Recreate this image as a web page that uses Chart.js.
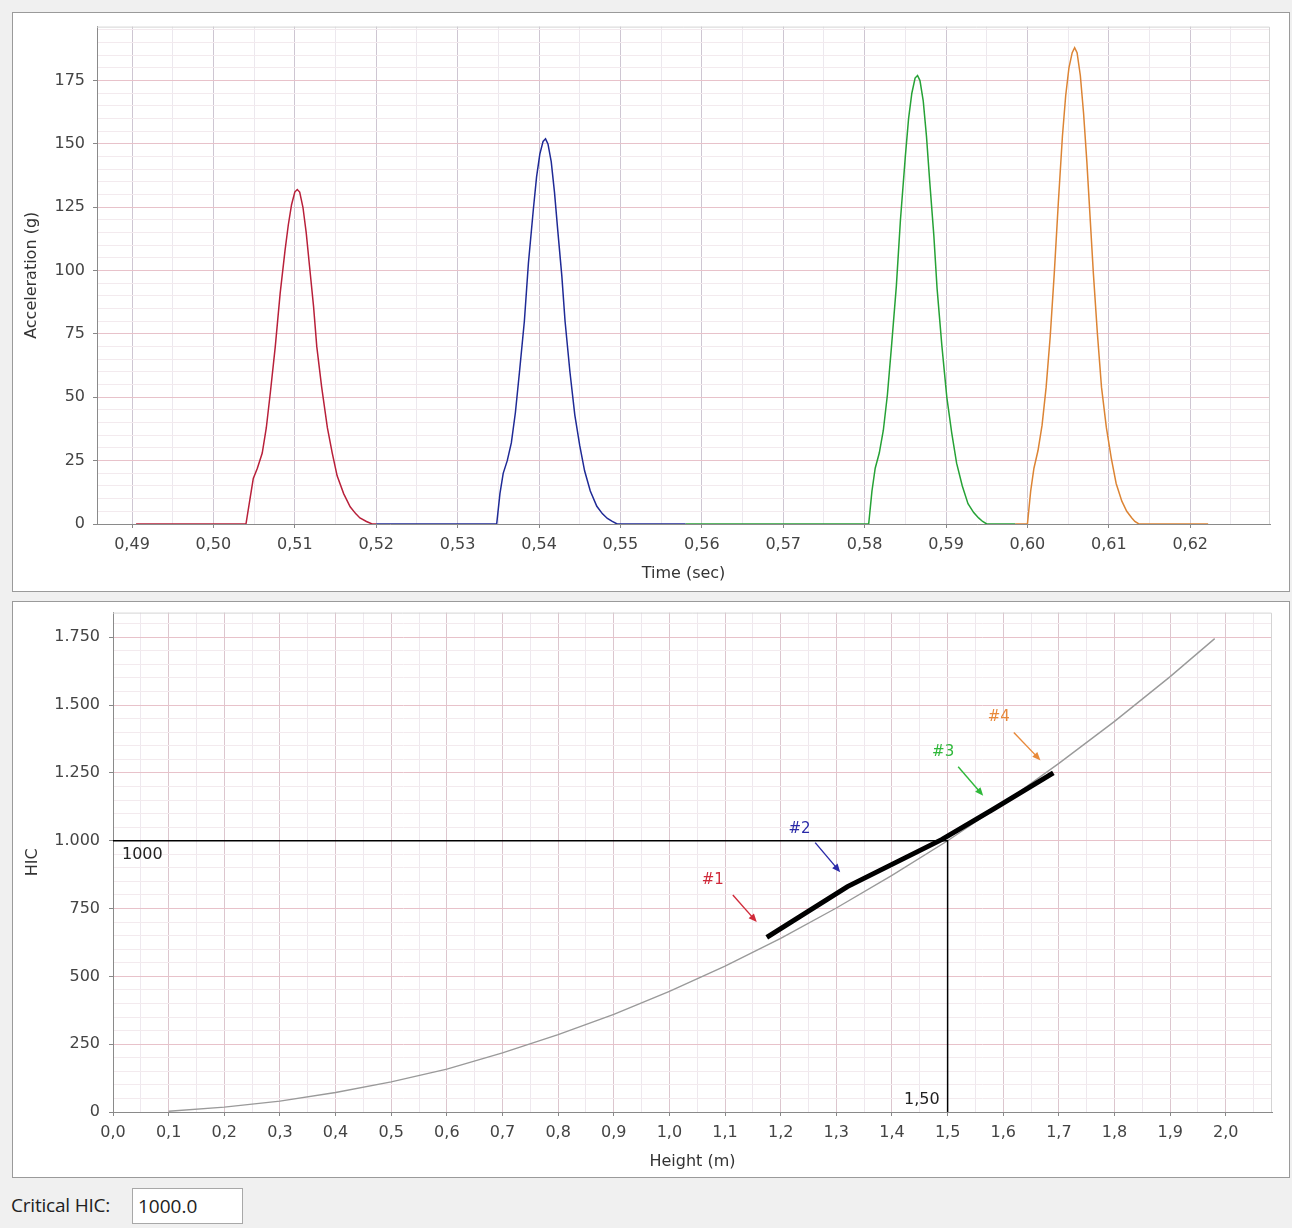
<!DOCTYPE html>
<html>
<head>
<meta charset="utf-8">
<title>HIC</title>
<script src="https://cdn.jsdelivr.net/npm/chart.js@4.4.1/dist/chart.umd.min.js"></script>
<style>
  body { margin: 0; background: #f0f0f0; width: 1292px; height: 1228px; position: relative; overflow: hidden; }
  .panel { position: absolute; left: 12px; width: 1276px; background: #fff; border: 1px solid #9a9a9a; overflow: hidden; }
  #top-panel { top: 12px; height: 578px; }
  #bottom-panel { top: 601px; height: 575px; }
  .wrap { position: absolute; left: 0; width: 1276px; }
  #top-wrap { top: -4px; height: 582px; }
  #bottom-wrap { top: -8px; height: 583px; }
  .wrap canvas { display: block; }
  #crit-label { position: absolute; left: 11px; top: 1192px; font: 19px "Open Sans"; color: #222; letter-spacing: -0.2px; }
  #crit-box { position: absolute; left: 132px; top: 1188px; width: 104px; height: 34px; padding-left: 5px;
    background: #fff; border: 1px solid #a8a8a8; font: 19px "Open Sans"; color: #222; line-height: 34px; }
</style>
</head>
<body>
<div class="panel" id="top-panel"><div class="wrap" id="top-wrap"><canvas id="accel-chart"></canvas></div></div>
<div class="panel" id="bottom-panel"><div class="wrap" id="bottom-wrap"><canvas id="hic-chart"></canvas></div></div>
<div id="crit-label">Critical HIC:</div>
<div id="crit-box">1000.0</div>
<script>
// Drop #1 (red)
const redTime = [0.4905, 0.5040, 0.5045, 0.5049, 0.5054, 0.5060, 0.5065, 0.5070, 0.5076, 0.5082, 0.5088, 0.5092, 0.5096, 0.5100, 0.5103, 0.5106, 0.5110, 0.5114, 0.5118, 0.5123, 0.5127, 0.5133, 0.5140, 0.5146, 0.5152, 0.5160, 0.5168, 0.5175, 0.5180, 0.5188, 0.5195, 0.5200];
const redAccel = [0, 0, 10, 18, 22, 28, 38, 52, 70, 91, 108, 118, 126, 131, 132, 131, 125, 115, 102, 86, 70, 54, 38, 28, 19, 12, 6.8, 4, 2.4, 1, 0, 0];

// Drop #2 (blue)
const blueTime = [0.5200, 0.5348, 0.5352, 0.5356, 0.5361, 0.5366, 0.5371, 0.5376, 0.5382, 0.5387, 0.5393, 0.5397, 0.5401, 0.5405, 0.5408, 0.5411, 0.5415, 0.5419, 0.5423, 0.5428, 0.5432, 0.5438, 0.5444, 0.5450, 0.5456, 0.5463, 0.5471, 0.5478, 0.5484, 0.5490, 0.5496, 0.5580];
const blueAccel = [0, 0, 12, 20, 25, 32, 44, 60, 80, 103, 124, 137, 146, 151, 152, 150, 143, 131, 116, 98, 80, 60, 43, 31, 21, 13, 7, 4, 2.2, 1, 0, 0];

// Drop #3 (green)
const greenTime = [0.5580, 0.5805, 0.5809, 0.5813, 0.5818, 0.5823, 0.5828, 0.5833, 0.5839, 0.5844, 0.5850, 0.5854, 0.5858, 0.5862, 0.5865, 0.5868, 0.5872, 0.5876, 0.5880, 0.5885, 0.5889, 0.5895, 0.5901, 0.5907, 0.5913, 0.5920, 0.5927, 0.5934, 0.5940, 0.5945, 0.5950, 0.5985];
const greenAccel = [0, 0, 13, 22, 28, 37, 51, 70, 94, 120, 145, 160, 170, 176, 177, 175, 167, 153, 135, 114, 93, 70, 50, 36, 24, 15, 8, 4.5, 2.4, 1, 0, 0];

// Drop #4 (orange)
const orangeTime = [0.5985, 0.6000, 0.6004, 0.6008, 0.6013, 0.6018, 0.6023, 0.6028, 0.6033, 0.6038, 0.6043, 0.6047, 0.6051, 0.6055, 0.6058, 0.6061, 0.6065, 0.6069, 0.6073, 0.6077, 0.6081, 0.6086, 0.6091, 0.6097, 0.6103, 0.6109, 0.6116, 0.6122, 0.6128, 0.6132, 0.6137, 0.6222];
const orangeAccel = [0, 0, 13, 22, 29, 39, 54, 74, 99, 127, 153, 169, 180, 186, 188, 186, 177, 162, 143, 121, 99, 75, 54, 38, 26, 16, 9, 5, 2.5, 1, 0, 0];

// HIC vs drop height
const heightValues = [0.1, 0.2, 0.3, 0.4, 0.5, 0.6, 0.7, 0.8, 0.9, 1.0, 1.1, 1.2, 1.3, 1.4, 1.5, 1.6, 1.7, 1.8, 1.9, 1.98];
const hicValues = [3, 18, 40, 72, 111, 158, 218, 285, 360, 445, 538, 640, 752, 872, 1000, 1138, 1285, 1440, 1605, 1745];

// measured drops
const testHeights = [1.175, 1.32, 1.49, 1.58, 1.69];
const testHic = [644, 831, 1005, 1114, 1250];

const criticalHIC = 1000;
const criticalHeight = 1.50;

// arrow notes (data units)
const noteLabels = ['#1', '#2', '#3', '#4'];
const noteColors = ['#d02a3a', '#2a2aa8', '#2fb83a', '#e8893a'];
const noteTextX = [1.078, 1.234, 1.492, 1.592];
const noteTextY = [855, 1042, 1325, 1456];
const noteFromX = [1.114, 1.262, 1.519, 1.619];
const noteFromY = [800, 993, 1273, 1399];
const noteToX = [1.157, 1.307, 1.564, 1.667];
const noteToY = [700, 884, 1166, 1296];

Chart.defaults.font.family = '"DejaVu Sans"';
Chart.defaults.font.size = 16;
Chart.defaults.color = '#444';

function points(xs, ys) {
  return xs.map((x, i) => ({ x: x, y: ys[i] }));
}

function isMultiple(v, step) {
  const r = v / step;
  return Math.abs(r - Math.round(r)) < 1e-6;
}

function commaFixed(v, digits) {
  return v.toFixed(digits).replace('.', ',');
}

function dotThousands(v) {
  return String(Math.round(v)).replace(/\B(?=(\d{3})+(?!\d))/g, '.');
}

function gridColor(step, major, minor) {
  return function(ctx) {
    if (!ctx.tick) return minor;
    return isMultiple(ctx.tick.value, step) ? major : minor;
  };
}

function tickColor(step) {
  return function(ctx) {
    if (!ctx.tick) return 'rgba(0,0,0,0)';
    return isMultiple(ctx.tick.value, step) ? '#888' : 'rgba(0,0,0,0)';
  };
}

// light line along top and right of the plot
const plotEdge = {
  id: 'plotEdge',
  beforeDatasetsDraw(chart) {
    const { ctx, chartArea: a } = chart;
    ctx.save();
    ctx.strokeStyle = '#d4d4d4';
    ctx.lineWidth = 1;
    ctx.beginPath();
    ctx.moveTo(a.left, a.top + 0.5);
    ctx.lineTo(a.right - 0.5, a.top + 0.5);
    ctx.lineTo(a.right - 0.5, a.bottom);
    ctx.stroke();
    ctx.restore();
  }
};

function lineSet(xs, ys, color, width) {
  return {
    data: points(xs, ys),
    showLine: true,
    borderColor: color,
    borderWidth: width,
    pointRadius: 0,
    tension: 0,
    fill: false
  };
}

new Chart(document.getElementById('accel-chart'), {
  type: 'scatter',
  data: {
    datasets: [
      lineSet(redTime, redAccel, '#b8203a', 1.5),
      lineSet(blueTime, blueAccel, '#1f2a96', 1.5),
      lineSet(greenTime, greenAccel, '#26a236', 1.5),
      lineSet(orangeTime, orangeAccel, '#dc8434', 1.5)
    ]
  },
  options: {
    responsive: true,
    maintainAspectRatio: false,
    animation: false,
    layout: { padding: { top: 0, right: 19, left: 0, bottom: 0 } },
    plugins: { legend: { display: false }, tooltip: { enabled: false } },
    scales: {
      x: {
        type: 'linear',
        min: 0.4857,
        max: 0.6298,
        afterFit: function(scale) { scale.height = 67; },
        border: { color: '#8a8a8a', width: 1 },
        grid: { color: gridColor(0.01, '#cec6d2', '#ece8ee'), tickColor: tickColor(0.01), tickLength: 4 },
        ticks: {
          stepSize: 0.005,
          includeBounds: false,
          autoSkip: false,
          maxRotation: 0,
          padding: 7,
          callback: v => isMultiple(v, 0.01) ? commaFixed(v, 2) : ''
        },
        title: { display: true, text: 'Time (sec)', color: '#333', padding: { top: 0, bottom: 8 } }
      },
      y: {
        min: 0,
        max: 196.3,
        afterFit: function(scale) { scale.width = 84; },
        border: { color: '#8a8a8a', width: 1 },
        grid: { color: gridColor(25, '#e8c2ca', '#f3eaee'), tickColor: tickColor(25), tickLength: 4 },
        ticks: {
          stepSize: 5,
          includeBounds: false,
          autoSkip: false,
          padding: 8,
          callback: v => isMultiple(v, 25) ? String(v) : ''
        },
        title: { display: true, text: 'Acceleration (g)', color: '#333', padding: { top: 9, bottom: 0 } }
      }
    }
  },
  plugins: [plotEdge]
});

const hicNotes = {
  id: 'hicNotes',
  afterDatasetsDraw(chart) {
    const { ctx } = chart;
    const x = chart.scales.x;
    const y = chart.scales.y;
    ctx.save();
    ctx.font = '16px "DejaVu Sans"';
    ctx.fillStyle = '#222';
    ctx.textBaseline = 'middle';
    ctx.textAlign = 'left';
    ctx.fillText(String(criticalHIC), x.getPixelForValue(0) + 9, y.getPixelForValue(criticalHIC) + 14);
    ctx.textAlign = 'right';
    ctx.fillText(commaFixed(criticalHeight, 2), x.getPixelForValue(criticalHeight) - 8, y.getPixelForValue(0) - 12);

    ctx.textAlign = 'center';
    ctx.font = '15px "DejaVu Sans"';
    noteLabels.forEach(function(label, i) {
      const color = noteColors[i];
      ctx.fillStyle = color;
      ctx.fillText(label, x.getPixelForValue(noteTextX[i]), y.getPixelForValue(noteTextY[i]));
      const x1 = x.getPixelForValue(noteFromX[i]);
      const y1 = y.getPixelForValue(noteFromY[i]);
      const x2 = x.getPixelForValue(noteToX[i]);
      const y2 = y.getPixelForValue(noteToY[i]);
      const ang = Math.atan2(y2 - y1, x2 - x1);
      const head = 9;
      ctx.strokeStyle = color;
      ctx.lineWidth = 1.4;
      ctx.beginPath();
      ctx.moveTo(x1, y1);
      ctx.lineTo(x2 - Math.cos(ang) * head * 0.7, y2 - Math.sin(ang) * head * 0.7);
      ctx.stroke();
      ctx.beginPath();
      ctx.moveTo(x2, y2);
      ctx.lineTo(x2 - head * Math.cos(ang - 0.4), y2 - head * Math.sin(ang - 0.4));
      ctx.lineTo(x2 - head * Math.cos(ang + 0.4), y2 - head * Math.sin(ang + 0.4));
      ctx.closePath();
      ctx.fill();
    });
    ctx.restore();
  }
};

new Chart(document.getElementById('hic-chart'), {
  type: 'scatter',
  data: {
    datasets: [
      Object.assign(lineSet(testHeights, testHic, '#000', 5), { borderCapStyle: 'butt' }),
      lineSet([0, criticalHeight, criticalHeight], [criticalHIC, criticalHIC, 0], '#000', 1.5),
      lineSet(heightValues, hicValues, '#9a9a9a', 1.4)
    ]
  },
  options: {
    responsive: true,
    maintainAspectRatio: false,
    animation: false,
    layout: { padding: { top: 0, right: 17, left: 0, bottom: 0 } },
    plugins: { legend: { display: false }, tooltip: { enabled: false } },
    scales: {
      x: {
        type: 'linear',
        min: 0,
        max: 2.083,
        afterFit: function(scale) { scale.height = 65; },
        border: { color: '#8a8a8a', width: 1 },
        grid: { color: gridColor(0.1, '#dcc6ce', '#eee8ee'), tickColor: tickColor(0.1), tickLength: 4 },
        ticks: {
          stepSize: 0.05,
          includeBounds: false,
          autoSkip: false,
          maxRotation: 0,
          padding: 7,
          callback: v => isMultiple(v, 0.1) ? commaFixed(v, 1) : ''
        },
        title: { display: true, text: 'Height (m)', color: '#333', padding: { top: 0, bottom: 6 } }
      },
      y: {
        min: 0,
        max: 1841,
        afterFit: function(scale) { scale.width = 100; },
        border: { color: '#8a8a8a', width: 1 },
        grid: { color: gridColor(250, '#e8c2ca', '#f3eaee'), tickColor: tickColor(250), tickLength: 4 },
        ticks: {
          stepSize: 50,
          includeBounds: false,
          autoSkip: false,
          padding: 9,
          callback: v => isMultiple(v, 250) ? dotThousands(v) : ''
        },
        title: { display: true, text: 'HIC', color: '#333', padding: { top: 10, bottom: 0 } }
      }
    }
  },
  plugins: [plotEdge, hicNotes]
});
</script>
</body>
</html>
